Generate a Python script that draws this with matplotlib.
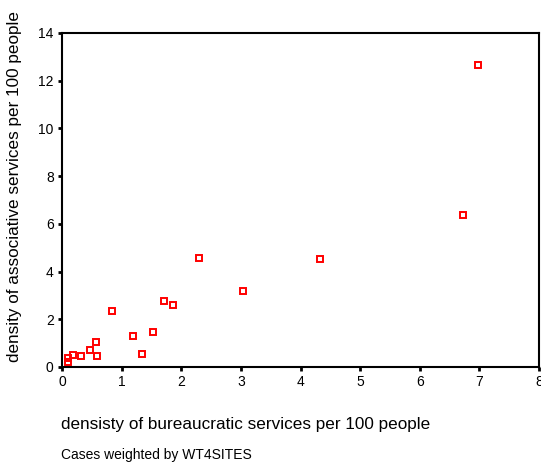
import matplotlib
matplotlib.use("Agg")
import matplotlib.pyplot as plt

plt.rcParams['font.family'] = ['Liberation Sans', 'DejaVu Sans']

bureaucratic = [0.10, 0.10, 0.19, 0.32, 0.47, 0.57, 0.58, 0.84, 1.19, 1.34,
                1.52, 1.71, 1.87, 2.29, 3.04, 4.33, 6.73, 6.97]
associative = [0.20, 0.36, 0.50, 0.45, 0.70, 1.03, 0.45, 2.36, 1.29, 0.55,
               1.46, 2.76, 2.58, 4.55, 3.20, 4.51, 6.36, 12.65]
xticks = [0, 1, 2, 3, 4, 5, 6, 7, 8]
yticks = [0, 2, 4, 6, 8, 10, 12, 14]

W, H = 541, 470
fig = plt.figure(figsize=(W / 100, H / 100), dpi=100)
ax = fig.add_axes([62 / W, (H - 367) / H, 477 / W, 334 / H])

ax.plot(bureaucratic, associative, linestyle='none', marker='s', markersize=4,
        markerfacecolor='none', markeredgecolor='#ff0000', markeredgewidth=1.4)

ax.set_xlim(0, 8)
ax.set_ylim(0, 14)
ax.set_xticks(xticks)
ax.set_yticks(yticks)
ax.tick_params(axis='both', direction='out', length=3, width=2, labelsize=10,
               colors='black', pad=3)
for s in ax.spines.values():
    s.set_linewidth(1.5)
    s.set_color('black')

fig.text(15 / W, (H - 186) / H, 'density of associative services per 100 people',
         rotation=90, ha='center', va='center', fontsize=12.3)
fig.text(61 / W, (H - 424) / H, 'densisty of bureaucratic services per 100 people',
         ha='left', va='center', fontsize=12.3)
fig.text(61 / W, (H - 455) / H, 'Cases weighted by WT4SITES',
         ha='left', va='center', fontsize=10)

fig.savefig('out.png', dpi=100)
